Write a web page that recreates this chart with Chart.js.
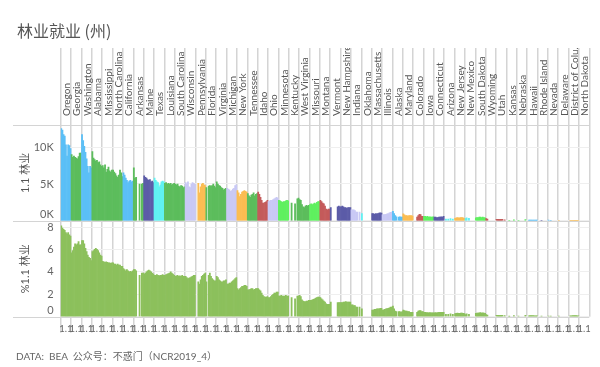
<!DOCTYPE html>
<html>
<head>
<meta charset="utf-8">
<script src="https://cdn.jsdelivr.net/npm/chart.js@4.4.1/dist/chart.umd.min.js"></script>
<style>
  body { margin: 0; background: #fff; }
  #wrap { position: relative; width: 600px; height: 367px; }
  #title { position: absolute; left: 17px; top: 20px; font: 16px/20px "Noto Sans CJK SC", sans-serif; color: #555; }
  #note { position: absolute; left: 16px; top: 349px; font: 10px/14px Lato, "Noto Sans CJK SC", sans-serif; color: #666; }
</style>
</head>
<body>
<div id="wrap">
  <canvas id="chart" width="600" height="367"></canvas>
  <div id="title">林业就业 (州)</div>
  <div id="note">DATA:&nbsp; BEA&nbsp; 公众号：不惑门（NCR2019_4）</div>
</div>
<script>
const n = null;

const states = ['Oregon', 'Georgia', 'Washington', 'Alabama', 'Mississippi', 'North Carolina',
  'California', 'Arkansas', 'Maine', 'Texas', 'Louisiana', 'South Carolina', 'Wisconsin',
  'Pennsylvania', 'Florida', 'Virginia', 'Michigan', 'New York', 'Tennessee', 'Idaho', 'Ohio',
  'Minnesota', 'Kentucky', 'West Virginia', 'Missouri', 'Montana', 'Vermont', 'New Hampshire',
  'Indiana', 'Oklahoma', 'Massachusetts', 'Illinois', 'Alaska', 'Maryland', 'Colorado', 'Iowa',
  'Connecticut', 'Arizona', 'New Jersey', 'New Mexico', 'South Dakota', 'Wyoming', 'Utah',
  'Kansas', 'Nebraska', 'Hawaii', 'Rhode Island', 'Nevada', 'Delaware', 'District of Colu..',
  'North Dakota'];

// BEA region of each state (sets the bar colour in the top pane)
const regions = ['FW', 'SE', 'FW', 'SE', 'SE', 'SE', 'FW', 'SE', 'NE', 'SW', 'SE', 'SE', 'GL',
  'ME', 'SE', 'SE', 'GL', 'ME', 'SE', 'RM', 'GL', 'PL', 'SE', 'SE', 'PL', 'RM', 'NE', 'NE',
  'GL', 'SW', 'NE', 'GL', 'FW', 'ME', 'RM', 'PL', 'NE', 'SW', 'ME', 'SW', 'PL', 'RM', 'RM',
  'PL', 'PL', 'FW', 'NE', 'FW', 'ME', 'ME', 'PL'];

const regionColors = {
  FW: '#5bbff6', SE: '#5cbd5c', NE: '#5c5ca8', SW: '#60f2f2',
  GL: '#c9c9f5', ME: '#fbbd52', PL: '#5ff05f', RM: '#c45b5b'
};

const periods = ['t1', 't2', 't3', 't4', 't5', 't6', 't7', 't8', 't9'];

// forestry employment, thousands
const employment = [
  [12.5, 12.3, 11.7, 11.5, 10.3, 8.8, 10.3, 10.2, 9.8],   // Oregon
  [9.0, 8.6, 8.8, 8.6, 8.5, 8.4, 8.7, 9.2, 9.2],          // Georgia
  [11.7, 10.9, 10.1, 9.3, 8.4, 7.4, 6.5, 7.4, 7.2],       // Washington
  [9.4, 8.5, 8.3, 8.1, 8.2, 7.9, 8.0, 7.6, 7.4],          // Alabama
  [7.5, 7.2, 7.6, 6.6, 7.0, 7.3, 6.8, 6.6, 6.9],          // Mississippi
  [6.9, 6.6, 6.4, 6.1, 5.9, 6.2, 6.9, 6.5, 6.0],          // North Carolina
  [6.5, 6.2, 5.8, 5.5, 5.2, 5.4, 5.5, 5.3, 5.4],          // California
  [7.2, 5.8, 5.9, n, n, 5.0, n, 5.0, 5.1],                // Arkansas
  [6.1, 5.9, 5.8, 5.6, 5.5, 5.6, 5.3, 5.4, 5.2],          // Maine
  [5.8, 5.5, 5.3, 5.2, 4.6, 4.9, 5.3, 5.4, 5.3],          // Texas
  [5.1, 5.2, 5.0, 5.1, 5.0, 5.1, 4.9, 5.0, 5.1],          // Louisiana
  [5.0, 4.9, 5.0, 4.7, 4.6, 4.8, 4.7, 4.5, 4.6],          // South Carolina
  [5.2, 5.0, 5.3, 4.6, 4.5, 5.0, 5.2, 5.1, 5.0],          // Wisconsin
  [n, n, 5.1, 3.8, 4.6, 5.0, 5.1, 4.9, 4.8],              // Pennsylvania
  [4.5, n, 4.7, 4.8, 4.7, 4.8, 5.0, 4.7, 4.5],            // Florida
  [5.3, 5.0, 4.8, 4.7, 4.5, 4.4, 4.2, 4.3, 4.4],          // Virginia
  [4.4, 4.3, 4.2, 4.0, 4.1, 4.3, 4.4, 4.8, 4.9],          // Michigan
  [4.1, 3.8, 3.3, 3.6, 3.9, 4.0, 4.1, 4.0, 3.9],          // New York
  [3.7, 3.4, 3.2, 3.5, 3.6, 3.8, 3.4, 3.6, 3.7],          // Tennessee
  [3.9, 3.6, 3.2, 2.8, 2.4, 2.4, 2.5, 2.6, 2.8],          // Idaho
  [2.6, 2.7, 2.8, 2.8, 2.9, 3.0, 3.1, 3.2, 3.1],          // Ohio
  [2.8, 2.7, 2.6, 2.5, 2.6, 2.6, 2.7, 2.8, 2.7],          // Minnesota
  [n, n, 2.4, n, n, 2.3, n, 3.0, 3.1],                    // Kentucky
  [2.9, 2.8, 2.2, 1.9, 1.8, 2.0, 2.1, 2.0, 2.1],          // West Virginia
  [2.2, 2.3, 2.2, 2.3, 2.4, 2.3, 2.5, 2.6, 2.6],          // Missouri
  [2.8, 2.6, 2.4, 2.3, 2.0, 1.6, 1.5, 1.6, 1.6],          // Montana
  [1.8, n, n, n, n, n, 1.9, 2.0, 1.9],                    // Vermont
  [1.9, 2.0, 1.9, 1.8, 1.8, 1.7, 1.8, 1.8, 1.8],          // New Hampshire
  [1.5, 1.5, 1.5, 1.4, 1.2, 1.2, n, 1.2, n],              // Indiana
  [1.0, n, n, n, n, n, n, n, n],                          // Oklahoma
  [1.0, 1.0, 0.9, 1.0, 0.95, 1.0, 1.05, 1.1, 1.05],       // Massachusetts
  [0.8, 0.85, 0.85, 0.9, 0.95, 1.0, 1.1, 1.15, 1.2],      // Illinois
  [1.3, 1.0, 0.7, 0.55, n, 0.5, 0.55, 0.5, 0.5],          // Alaska
  [0.95, 0.8, 0.7, 0.7, 0.65, 0.7, 0.7, 0.7, 0.65],       // Maryland
  [n, n, n, 0.5, 0.7, 0.9, 0.85, 0.6, 0.6],               // Colorado
  [0.6, 0.6, 0.55, 0.6, 0.5, 0.55, 0.5, 0.5, 0.55],       // Iowa
  [0.5, 0.5, 0.45, 0.45, 0.5, 0.5, 0.55, 0.5, 0.6],       // Connecticut
  [n, 0.25, n, 0.25, n, 0.3, n, 0.25, n],                 // Arizona
  [0.35, 0.4, 0.45, 0.4, 0.4, 0.45, 0.45, 0.4, 0.35],     // New Jersey
  [0.3, 0.4, n, 0.35, n, n, n, n, n],                     // New Mexico
  [0.4, 0.45, 0.45, 0.5, 0.5, 0.45, 0.5, 0.45, 0.4],      // South Dakota
  [0.3, 0.25, n, n, n, n, n, n, n],                       // Wyoming
  [0.2, 0.2, 0.2, 0.2, 0.2, 0.2, n, 0.15, n],             // Utah
  [n, n, 0.05, n, n, n, 0.15, n, n],                      // Kansas
  [n, 0.05, n, n, n, n, n, 0.18, n],                      // Nebraska
  [n, 0.1, 0.12, 0.12, 0.12, 0.12, 0.1, 0.1, 0.1],        // Hawaii
  [n, n, n, 0.05, n, n, n, n, n],                         // Rhode Island
  [0.1, n, 0.08, n, n, n, n, n, n],                       // Nevada
  [0.05, n, n, n, n, n, n, n, n],                         // Delaware
  [n, 0.07, 0.07, 0.08, 0.08, 0.08, 0.08, 0.07, 0.07],    // District of Columbia
  [n, n, n, n, n, n, n, n, n]                             // North Dakota
];

// forestry share of employment, %
const share = [
  [8.1, 7.9, 7.8, 7.7, 7.5, 7.4, 7.5, 7.3, 7.2],
  [5.7, 5.9, 6.2, 6.5, 6.4, 6.5, 6.7, 6.4, 6.4],
  [6.8, 6.8, 6.5, 6.1, 5.8, 5.5, 5.3, 5.2, 5.0],
  [5.8, 5.9, 6.0, 6.1, 6.0, 5.9, 5.7, 5.5, 5.4],
  [4.95, 4.9, 4.85, 4.9, 4.85, 4.8, 4.8, 4.75, 4.8],
  [4.8, 4.7, 4.7, 4.6, 4.7, 4.6, 4.6, 4.5, 4.5],
  [4.3, 4.2, 4.1, 4.2, 4.1, 4.0, 4.05, 4.0, 4.1],
  [4.2, 4.2, 4.1, n, n, 3.7, n, 3.9, 3.9],
  [3.8, 3.9, 4.0, 4.1, 4.15, 4.1, 4.0, 3.9, 3.8],
  [3.7, 3.7, 3.75, 3.7, 3.65, 3.7, 3.7, 3.75, 3.7],
  [3.7, 3.75, 3.8, 3.85, 3.9, 4.0, 3.9, 3.8, 3.7],
  [3.6, 3.65, 3.7, 3.6, 3.65, 3.6, 3.7, 3.6, 3.6],
  [3.6, 3.5, 3.4, 3.45, 3.5, 3.55, 3.6, 3.7, 3.7],
  [n, n, 3.1, 2.9, 3.3, 3.6, 3.7, 3.8, 3.9],
  [3.1, n, 3.7, 3.9, 3.6, 3.4, 3.3, 3.2, 3.2],
  [3.6, 3.5, 3.3, 3.2, 3.1, 3.1, 3.2, 3.2, 3.3],
  [2.9, 2.9, 3.0, 3.0, 3.1, 3.2, 3.3, 3.4, 3.5],
  [2.5, 2.4, 2.5, 2.6, 2.7, 2.7, 2.8, 2.8, 2.7],
  [2.4, 2.4, 2.45, 2.5, 2.5, 2.4, 2.45, 2.5, 2.5],
  [2.5, 2.4, 2.3, 2.1, 1.9, 1.8, 1.75, 1.75, 1.8],
  [1.7, 1.7, 1.8, 1.9, 2.0, 2.1, 2.1, 2.2, 2.2],
  [1.85, 1.85, 1.9, 1.85, 1.85, 1.85, 1.9, 1.85, 1.85],
  [n, n, 1.7, n, n, 1.6, n, 1.85, 1.85],
  [1.9, 1.8, 1.5, 1.4, 1.35, 1.35, 1.4, 1.4, 1.45],
  [1.45, 1.45, 1.5, 1.55, 1.6, 1.65, 1.7, 1.75, 1.75],
  [1.7, 1.6, 1.5, 1.4, 1.3, 1.15, 1.1, 1.1, 1.1],
  [1.3, n, n, n, n, n, 1.25, 1.25, 1.25],
  [1.25, 1.25, 1.3, 1.3, 1.35, 1.3, 1.3, 1.3, 1.3],
  [1.05, 1.05, 1.0, 1.0, 0.85, 0.85, n, 0.85, n],
  [0.7, n, n, n, n, n, n, n, n],
  [0.6, 0.6, 0.65, 0.65, 0.7, 0.7, 0.7, 0.75, 0.75],
  [0.6, 0.62, 0.65, 0.7, 0.72, 0.75, 0.8, 0.85, 0.85],
  [0.95, 0.7, 0.5, 0.45, n, 0.45, 0.45, 0.4, 0.45],
  [0.6, 0.55, 0.5, 0.5, 0.45, 0.45, 0.4, 0.4, 0.4],
  [n, n, n, 0.4, 0.5, 0.55, 0.55, 0.45, 0.45],
  [0.4, 0.38, 0.36, 0.36, 0.35, 0.36, 0.35, 0.34, 0.35],
  [0.35, 0.36, 0.35, 0.36, 0.38, 0.38, 0.4, 0.38, 0.4],
  [n, 0.22, n, 0.22, n, 0.25, n, 0.22, n],
  [0.28, 0.3, 0.32, 0.3, 0.3, 0.32, 0.32, 0.3, 0.28],
  [0.2, 0.25, n, 0.22, n, n, n, n, n],
  [0.3, 0.32, 0.32, 0.35, 0.36, 0.33, 0.35, 0.32, 0.3],
  [0.18, 0.15, n, n, n, n, n, n, n],
  [0.12, 0.12, 0.12, 0.12, 0.12, 0.12, n, 0.1, n],
  [n, n, 0.03, n, n, n, 0.1, n, n],
  [n, 0.04, n, n, n, n, n, 0.12, n],
  [n, 0.08, 0.09, 0.09, 0.09, 0.09, 0.08, 0.08, 0.08],
  [n, n, n, 0.04, n, n, n, n, n],
  [0.05, n, 0.04, n, n, n, n, n, n],
  [0.04, n, n, n, n, n, n, n, n],
  [n, 0.08, 0.08, 0.09, 0.09, 0.09, 0.09, 0.08, 0.08],
  [n, n, n, n, n, n, n, n, n]
];

const family = 'Lato, "Noto Sans CJK SC", sans-serif';
const lineGray = '#d4d4d4';
const per = periods.length;

const labels = [];
const empValues = [];
const shareValues = [];
const empColors = [];
states.forEach((s, i) => {
  periods.forEach((p, j) => {
    labels.push(s + ' ' + p);
    empValues.push(employment[i][j]);
    shareValues.push(share[i][j]);
    empColors.push(regionColors[regions[i]]);
  });
});

// pane borders like the Tableau panes
const paneLines = {
  id: 'paneLines',
  afterDraw(chart) {
    const {ctx, chartArea, scales} = chart;
    ctx.save();
    ctx.strokeStyle = lineGray;
    ctx.lineWidth = 1;
    [scales.y1.top, scales.y1.bottom, scales.y2.bottom].forEach(y => {
      const yy = Math.round(y) + 0.5;
      ctx.beginPath();
      ctx.moveTo(scales.y1.left, yy);
      ctx.lineTo(chartArea.right, yy);
      ctx.stroke();
    });
    ctx.restore();
  }
};

const ctx = document.getElementById('chart').getContext('2d');
const myChart = new Chart(ctx, {
  type: 'bar',
  data: {
    labels: labels,
    datasets: [{
      label: '1.1 林业',
      data: empValues,
      backgroundColor: empColors,
      yAxisID: 'y1',
      xAxisID: 'x',
      grouped: false,
      categoryPercentage: 1,
      barPercentage: 1
    }, {
      label: '%1.1 林业',
      data: shareValues,
      backgroundColor: '#8cc05c',
      yAxisID: 'y2',
      xAxisID: 'x',
      grouped: false,
      categoryPercentage: 1,
      barPercentage: 1
    }]
  },
  options: {
    responsive: false,
    animation: false,
    layout: { padding: { left: 13, right: 10.7, top: 48, bottom: 34.3 } },
    plugins: { legend: { display: false }, tooltip: { enabled: false } },
    scales: {
      x: {
        type: 'category',
        position: 'bottom',
        offset: true,
        grid: {
          offset: true,
          drawOnChartArea: false,
          tickLength: 16,
          lineWidth: 1.5,
          tickColor: c => c.index % per === 0 ? lineGray : 'rgba(0,0,0,0)'
        },
        border: { display: false },
        ticks: {
          autoSkip: false, minRotation: 0, maxRotation: 0, padding: -9,
          color: '#666', font: { size: 9.5, family: family },
          callback: (v, i) => i % per === 4 ? '1.1' : ''
        },
        afterFit: s => { s.height = 16; }
      },
      x2: {
        type: 'category',
        position: 'top',
        labels: states,
        offset: true,
        grid: { offset: true, color: lineGray, lineWidth: 1.5, tickLength: 77 },
        border: { display: false },
        ticks: {
          autoSkip: false, minRotation: 90, maxRotation: 90, padding: -68, labelOffset: 13,
          color: '#555', font: { size: 10, family: family }
        },
        afterFit: s => { s.height = 77; }
      },
      y1: {
        position: 'left',
        stack: 'panes',
        weight: 1,
        min: 0,
        max: 13,
        title: { display: true, text: '1.1 林业', color: '#555', font: { size: 11, family: family }, padding: { top: 5.4, bottom: 0 } },
        grid: { color: '#efefef', drawTicks: false },
        border: { display: false },
        ticks: {
          stepSize: 5, includeBounds: false, autoSkip: false, padding: 7, color: '#666',
          font: { size: 11, family: family },
          callback: v => v === 0 ? ['0K', ''] : v + 'K'
        },
        afterFit: s => { s.width = 47.7; }
      },
      y2: {
        position: 'left',
        stack: 'panes',
        weight: 0,
        min: 0,
        max: 8.55,
        title: { display: true, text: '%1.1 林业', color: '#555', font: { size: 11, family: family }, padding: { top: 5.4, bottom: 0 } },
        grid: { color: '#efefef', drawTicks: false },
        border: { display: false },
        ticks: {
          stepSize: 2, includeBounds: false, autoSkip: false, padding: 7, color: '#666',
          font: { size: 11, family: family },
          callback: v => v === 0 ? ['0', ''] : v
        },
        afterFit: s => { s.width = 47.7; }
      }
    }
  },
  plugins: [paneLines]
});
</script>
</body>
</html>
